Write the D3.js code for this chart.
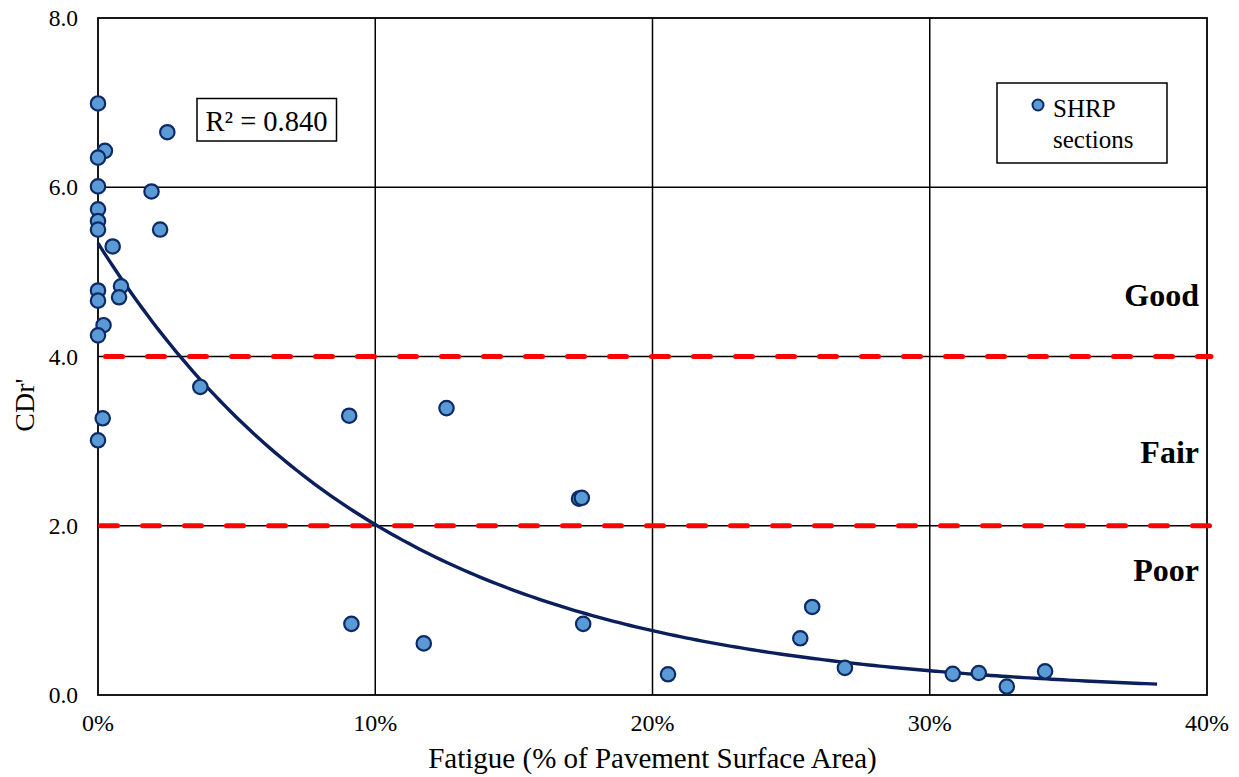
<!DOCTYPE html>
<html>
<head>
<meta charset="utf-8">
<script src="https://cdn.jsdelivr.net/npm/d3@7"></script>
<style>
  html, body { margin: 0; padding: 0; background: #fff; }
  svg { display: block; }
  text { font-family: "Liberation Serif", "Times New Roman", serif; fill: #000; }
</style>
</head>
<body>
<script>
// ---- data ----
const fatigue = [0, 0.25, 0, 2.5, 0, 1.93, 0, 0, 0, 2.24, 0.53, 0.83, 0.76, 0, 0, 0.2, 0, 3.69, 0.17, 0,
                 9.06, 12.57, 17.35, 17.45, 9.14, 11.75, 17.5, 20.56, 25.33, 25.76, 26.94, 30.83, 31.77, 32.78, 34.16];
const cdr = [6.99, 6.43, 6.35, 6.65, 6.01, 5.95, 5.74, 5.60, 5.50, 5.50, 5.30, 4.83, 4.70, 4.78, 4.66, 4.37, 4.25, 3.64, 3.27, 3.01,
             3.30, 3.39, 2.32, 2.33, 0.84, 0.61, 0.84, 0.245, 0.67, 1.04, 0.32, 0.25, 0.26, 0.10, 0.28];
const xTicks = [0, 10, 20, 30, 40];
const xTickLabels = ["0%", "10%", "20%", "30%", "40%"];
const yTicks = [0, 2, 4, 6, 8];
const yTickLabels = ["0.0", "2.0", "4.0", "6.0", "8.0"];
const thresholds = [4, 2];
const zoneLabels = ["Good", "Fair", "Poor"];
const zoneLabelValues = [4.6, 2.74, 1.35];
// exponential trendline (Excel fit) y = a * exp(b * x), x in %
const trendA = 5.34, trendB = -0.0975, trendEnd = 38.2;
const r2Text = "R² = 0.840";
const legendLines = ["SHRP", "sections"];

// ---- layout ----
const W = 1239, H = 777;
const svg = d3.select("body").append("svg").attr("width", W).attr("height", H);

const x = d3.scaleLinear().domain([0, 40]).range([98, 1207]);
const y = d3.scaleLinear().domain([0, 8]).range([695, 18]);

// gridlines
const g = svg.append("g");
g.selectAll(".vgrid").data(xTicks.slice(1, -1)).enter().append("line")
  .attr("x1", d => x(d)).attr("x2", d => x(d))
  .attr("y1", y(0)).attr("y2", y(8))
  .attr("stroke", "#000").attr("stroke-width", 1.5);
g.selectAll(".hgrid").data(yTicks.slice(1, -1)).enter().append("line")
  .attr("x1", x(0)).attr("x2", x(40))
  .attr("y1", d => y(d)).attr("y2", d => y(d))
  .attr("stroke", "#000").attr("stroke-width", 1.5);

// frame
svg.append("rect").attr("x", x(0)).attr("y", y(8))
  .attr("width", x(40) - x(0)).attr("height", y(0) - y(8))
  .attr("fill", "none").attr("stroke", "#000").attr("stroke-width", 1.8);

// red dashed thresholds
svg.selectAll(".thr").data(thresholds).enter().append("line")
  .attr("x1", (d, i) => i === 0 ? x(0) + 7.5 : x(0) + 2.5)
  .attr("x2", x(40) + 4)
  .attr("y1", d => y(d)).attr("y2", d => y(d))
  .attr("stroke", "#ff0000").attr("stroke-width", 5)
  .attr("stroke-linecap", "round")
  .attr("stroke-dasharray", "17 25");

// trendline
const trendX = d3.range(0, trendEnd + 0.001, 0.2);
const line = d3.line().x(d => x(d)).y(d => y(trendA * Math.exp(trendB * d))).curve(d3.curveLinear);
svg.append("path").datum(trendX).attr("d", line)
  .attr("fill", "none").attr("stroke", "#0a1f5c").attr("stroke-width", 3.4);

// points
svg.selectAll(".pt").data(fatigue.map((f, i) => [f, cdr[i]])).enter().append("circle")
  .attr("cx", d => x(d[0])).attr("cy", d => y(d[1])).attr("r", 7.2)
  .attr("fill", "#5b9bd5").attr("stroke", "#0e2a66").attr("stroke-width", 2.2);

// y tick labels
svg.selectAll(".yt").data(yTicks).enter().append("text")
  .attr("x", 78).attr("y", d => y(d) + 8)
  .attr("text-anchor", "end").attr("font-size", 23.5)
  .text((d, i) => yTickLabels[i]);

// x tick labels
svg.selectAll(".xt").data(xTicks).enter().append("text")
  .attr("x", d => x(d)).attr("y", 731)
  .attr("text-anchor", "middle").attr("font-size", 24)
  .text((d, i) => xTickLabels[i]);

// axis titles
svg.append("text").attr("x", (x(0) + x(40)) / 2).attr("y", 768)
  .attr("text-anchor", "middle").attr("font-size", 29)
  .text("Fatigue (% of Pavement Surface Area)");
svg.append("text").attr("transform", "translate(34,405) rotate(-90)")
  .attr("text-anchor", "middle").attr("font-size", 28)
  .text("CDr'");

// zone labels
svg.selectAll(".zone").data(zoneLabels).enter().append("text")
  .attr("x", 1199).attr("y", (d, i) => y(zoneLabelValues[i]))
  .attr("text-anchor", "end").attr("font-size", 32).attr("font-weight", "bold")
  .text(d => d);

// R² box
svg.append("rect").attr("x", 197).attr("y", 98.5).attr("width", 139.5).attr("height", 42.5)
  .attr("fill", "#fff").attr("stroke", "#000").attr("stroke-width", 1.5);
svg.append("text").attr("x", 266.5).attr("y", 130.5).attr("text-anchor", "middle")
  .attr("font-size", 28.5).text(r2Text);

// legend
svg.append("rect").attr("x", 997).attr("y", 83).attr("width", 170).attr("height", 80)
  .attr("fill", "#fff").attr("stroke", "#000").attr("stroke-width", 1.5);
svg.append("circle").attr("cx", 1038).attr("cy", 105).attr("r", 5.5)
  .attr("fill", "#5b9bd5").attr("stroke", "#0e2a66").attr("stroke-width", 2);
svg.selectAll(".lg").data(legendLines).enter().append("text")
  .attr("x", 1053).attr("y", (d, i) => i === 0 ? 117 : 148)
  .attr("font-size", 25).text(d => d);
</script>
</body>
</html>
